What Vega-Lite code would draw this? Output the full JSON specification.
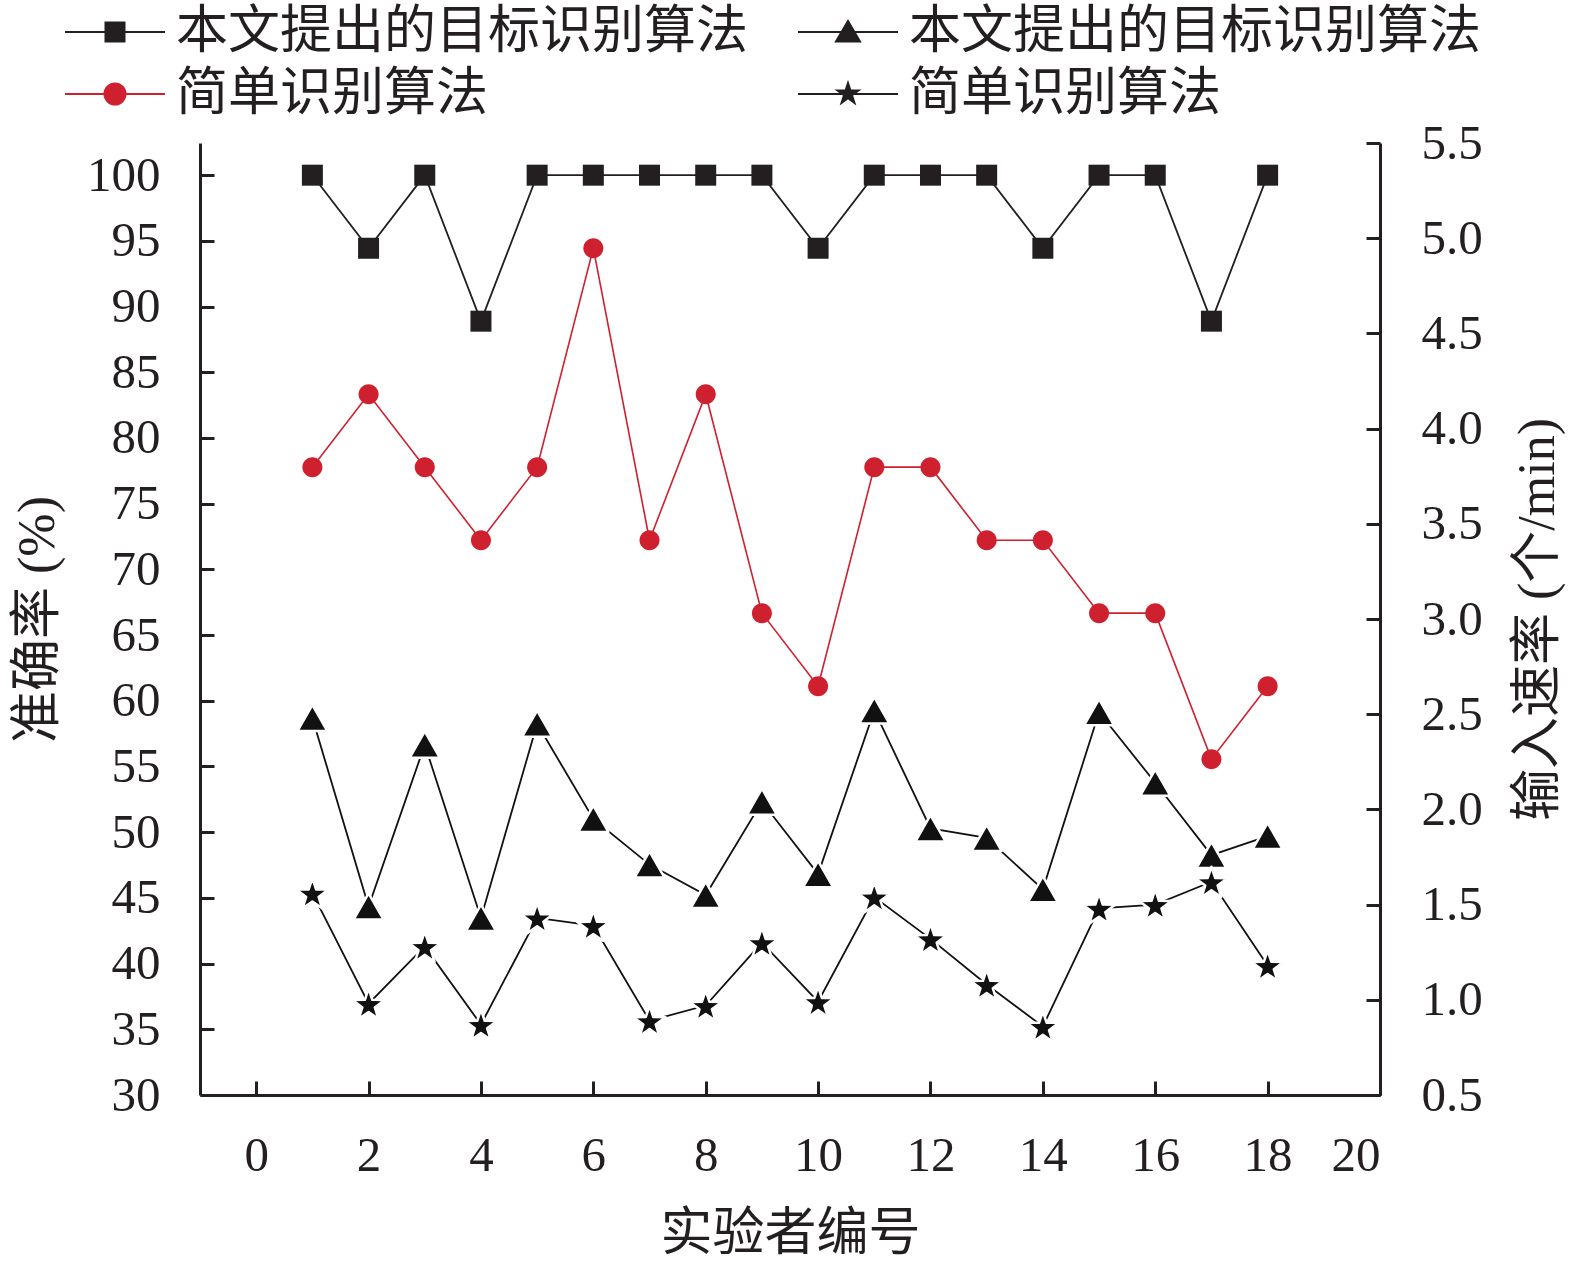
{
  "$schema": "https://vega.github.io/schema/vega-lite/v6.json",
  "width": 1180,
  "height": 952,
  "autosize": {"type": "none"},
  "padding": {"left": 200, "top": 143, "right": 195, "bottom": 167},
  "background": "white",
  "data": {
    "values": [
      {"id": 1, "series": "s1", "v": 100}, {"id": 2, "series": "s1", "v": 94.44}, {"id": 3, "series": "s1", "v": 100},
      {"id": 4, "series": "s1", "v": 88.89}, {"id": 5, "series": "s1", "v": 100}, {"id": 6, "series": "s1", "v": 100},
      {"id": 7, "series": "s1", "v": 100}, {"id": 8, "series": "s1", "v": 100}, {"id": 9, "series": "s1", "v": 100},
      {"id": 10, "series": "s1", "v": 94.44}, {"id": 11, "series": "s1", "v": 100}, {"id": 12, "series": "s1", "v": 100},
      {"id": 13, "series": "s1", "v": 100}, {"id": 14, "series": "s1", "v": 94.44}, {"id": 15, "series": "s1", "v": 100},
      {"id": 16, "series": "s1", "v": 100}, {"id": 17, "series": "s1", "v": 88.89}, {"id": 18, "series": "s1", "v": 100},
      {"id": 1, "series": "s3", "v": 77.78}, {"id": 2, "series": "s3", "v": 83.33}, {"id": 3, "series": "s3", "v": 77.78},
      {"id": 4, "series": "s3", "v": 72.22}, {"id": 5, "series": "s3", "v": 77.78}, {"id": 6, "series": "s3", "v": 94.44},
      {"id": 7, "series": "s3", "v": 72.22}, {"id": 8, "series": "s3", "v": 83.33}, {"id": 9, "series": "s3", "v": 66.67},
      {"id": 10, "series": "s3", "v": 61.11}, {"id": 11, "series": "s3", "v": 77.78}, {"id": 12, "series": "s3", "v": 77.78},
      {"id": 13, "series": "s3", "v": 72.22}, {"id": 14, "series": "s3", "v": 72.22}, {"id": 15, "series": "s3", "v": 66.67},
      {"id": 16, "series": "s3", "v": 66.67}, {"id": 17, "series": "s3", "v": 55.56}, {"id": 18, "series": "s3", "v": 61.11},
      {"id": 1, "series": "s2", "v": 2.48}, {"id": 2, "series": "s2", "v": 1.49}, {"id": 3, "series": "s2", "v": 2.34},
      {"id": 4, "series": "s2", "v": 1.43}, {"id": 5, "series": "s2", "v": 2.45}, {"id": 6, "series": "s2", "v": 1.95},
      {"id": 7, "series": "s2", "v": 1.71}, {"id": 8, "series": "s2", "v": 1.55}, {"id": 9, "series": "s2", "v": 2.04},
      {"id": 10, "series": "s2", "v": 1.66}, {"id": 11, "series": "s2", "v": 2.52}, {"id": 12, "series": "s2", "v": 1.9},
      {"id": 13, "series": "s2", "v": 1.85}, {"id": 14, "series": "s2", "v": 1.58}, {"id": 15, "series": "s2", "v": 2.51},
      {"id": 16, "series": "s2", "v": 2.14}, {"id": 17, "series": "s2", "v": 1.76}, {"id": 18, "series": "s2", "v": 1.86},
      {"id": 1, "series": "s4", "v": 1.56}, {"id": 2, "series": "s4", "v": 0.98}, {"id": 3, "series": "s4", "v": 1.28},
      {"id": 4, "series": "s4", "v": 0.87}, {"id": 5, "series": "s4", "v": 1.43}, {"id": 6, "series": "s4", "v": 1.39},
      {"id": 7, "series": "s4", "v": 0.89}, {"id": 8, "series": "s4", "v": 0.97}, {"id": 9, "series": "s4", "v": 1.3},
      {"id": 10, "series": "s4", "v": 0.99}, {"id": 11, "series": "s4", "v": 1.54}, {"id": 12, "series": "s4", "v": 1.32},
      {"id": 13, "series": "s4", "v": 1.08}, {"id": 14, "series": "s4", "v": 0.86}, {"id": 15, "series": "s4", "v": 1.48},
      {"id": 16, "series": "s4", "v": 1.5}, {"id": 17, "series": "s4", "v": 1.62}, {"id": 18, "series": "s4", "v": 1.18}
    ]
  },
  "layer": [
    {
      "encoding": {
        "x": {"field": "id", "type": "quantitative", "scale": {"domain": [-1, 20], "nice": false, "zero": false},
          "axis": {"values": [0, 2, 4, 6, 8, 10, 12, 14, 16, 18, 20], "title": "实验者编号", "labelPadding": 50, "titlePadding": 28}},
        "y": {"field": "v", "type": "quantitative", "scale": {"domain": [30, 102.45], "nice": false, "zero": false},
          "axis": {"orient": "left", "values": [30, 35, 40, 45, 50, 55, 60, 65, 70, 75, 80, 85, 90, 95, 100], "title": "准确率 (%)", "labelPadding": 54, "titlePadding": 22}}
      },
      "layer": [
        {"transform": [{"filter": "datum.series === 's1'"}], "mark": {"type": "line", "strokeWidth": 1.8, "color": "#231f20"}, "encoding": {}},
        {"transform": [{"filter": "datum.series === 's3'"}], "mark": {"type": "line", "strokeWidth": 1.6, "color": "#cf202f"}, "encoding": {}},
        {"transform": [{"filter": "datum.series === 's1'"}], "mark": {"type": "point", "filled": true, "opacity": 1, "size": 400, "color": "#231f20",
          "shape": "M-1.05,-1.05H1.05V1.05H-1.05Z"}},
        {"transform": [{"filter": "datum.series === 's3'"}], "mark": {"type": "point", "filled": true, "opacity": 1, "size": 400, "color": "#cf202f",
          "shape": "M1,0A1,1,0,1,1,-1,0A1,1,0,1,1,1,0Z"}},
        {
          "transform": [{"filter": "false"}],
          "mark": {"type": "point", "filled": true, "opacity": 1, "size": 400},
          "encoding": {
            "color": {"field": "series", "type": "nominal",
              "scale": {"domain": ["s1", "s2", "s3", "s4"], "range": ["#231f20", "#231f20", "#cf202f", "#231f20"]},
              "legend": {
                "title": null, "orient": "none", "direction": "horizontal", "legendX": -111, "legendY": -137, "columns": 2, "columnPadding": 45, "rowPadding": 10,
                "padding": 0, "symbolSize": 400, "symbolStrokeWidth": 2, "labelOffset": 35, "labelFontSize": 52, "labelFont": "Liberation Serif, Noto Sans CJK SC", "labelColor": "#231f20",
                "labelLimit": 1000,
                "labelExpr": "datum.value === 's1' || datum.value === 's2' ? '本文提出的目标识别算法' : '简单识别算法'"
              }},
            "stroke": {"field": "series", "type": "nominal",
              "scale": {"domain": ["s1", "s2", "s3", "s4"], "range": ["#231f20", "#231f20", "#cf202f", "#231f20"]},
              "legend": {
                "title": null, "orient": "none", "direction": "horizontal", "legendX": -111, "legendY": -137, "columns": 2, "columnPadding": 45, "rowPadding": 10,
                "padding": 0, "symbolSize": 400, "symbolStrokeWidth": 2, "labelOffset": 35, "labelFontSize": 52, "labelFont": "Liberation Serif, Noto Sans CJK SC", "labelColor": "#231f20",
                "labelLimit": 1000,
                "labelExpr": "datum.value === 's1' || datum.value === 's2' ? '本文提出的目标识别算法' : '简单识别算法'"
              }},
            "shape": {"field": "series", "type": "nominal",
              "scale": {"domain": ["s1", "s2", "s3", "s4"], "range": [
                "M-5,0H5M-0.95,-0.95H0.95V0.95H-0.95Z",
                "M-5,0H5M0,-1.1L1.2,0.95L-1.2,0.95Z",
                "M-5,0H5M1.05,0A1.05,1.05,0,1,1,-1.05,0A1.05,1.05,0,1,1,1.05,0Z",
                "M-5,0H5M0,-1.1L0.247,-0.34L1.046,-0.34L0.4,0.13L0.647,0.89L0,0.42L-0.647,0.89L-0.4,0.13L-1.046,-0.34L-0.247,-0.34Z"]},
              "legend": {
                "title": null, "orient": "none", "direction": "horizontal", "legendX": -111, "legendY": -137, "columns": 2, "columnPadding": 45, "rowPadding": 10,
                "padding": 0, "symbolSize": 400, "symbolStrokeWidth": 2, "labelOffset": 35, "labelFontSize": 52, "labelFont": "Liberation Serif, Noto Sans CJK SC", "labelColor": "#231f20",
                "labelLimit": 1000,
                "labelExpr": "datum.value === 's1' || datum.value === 's2' ? '本文提出的目标识别算法' : '简单识别算法'"
              }}
          }
        }
      ]
    },
    {
      "encoding": {
        "x": {"field": "id", "type": "quantitative", "scale": {"domain": [-1, 20], "nice": false, "zero": false},
          "axis": {"values": [0, 2, 4, 6, 8, 10, 12, 14, 16, 18, 20], "title": "实验者编号", "labelPadding": 50, "titlePadding": 28}},
        "y": {"field": "v", "type": "quantitative", "scale": {"domain": [0.5, 5.5], "nice": false, "zero": false},
          "axis": {"orient": "right", "values": [0.5, 1, 1.5, 2, 2.5, 3, 3.5, 4, 4.5, 5, 5.5], "format": ".1f", "title": "输入速率 (个/min)", "titleAngle": 270, "titleBaseline": "top", "labelPadding": 55, "titlePadding": 30}}
      },
      "layer": [
        {"transform": [{"filter": "datum.series === 's2'"}], "mark": {"type": "line", "strokeWidth": 1.8, "color": "#111111"}, "encoding": {}},
        {"transform": [{"filter": "datum.series === 's4'"}], "mark": {"type": "line", "strokeWidth": 1.8, "color": "#111111"}, "encoding": {}},
        {"transform": [{"filter": "datum.series === 's2'"}], "mark": {"type": "point", "filled": true, "opacity": 1, "size": 400, "color": "#111111",
          "stroke": "white", "strokeWidth": 2.5, "strokeJoin": "round", "shape": "M0,-1.32L1.5,1.3L-1.5,1.3Z"}},
        {"transform": [{"filter": "datum.series === 's4'"}], "mark": {"type": "point", "filled": true, "opacity": 1, "size": 400, "color": "#111111",
          "stroke": "white", "strokeWidth": 2.5, "strokeJoin": "round",
          "shape": "M0,-1.5L0.37,-0.38L1.6,-0.36L0.62,0.38L0.98,1.52L0,0.84L-0.98,1.52L-0.62,0.38L-1.6,-0.36L-0.37,-0.38Z"}}
      ]
    }
  ],
  "resolve": {"scale": {"y": "independent"}},
  "config": {
    "view": {"stroke": null},
    "font": "Liberation Serif, Noto Sans CJK SC",
    "axis": {
      "grid": false,
      "domainColor": "#231f20", "domainWidth": 3,
      "tickColor": "#231f20", "tickWidth": 3, "tickSize": -14,
      "labelFont": "Liberation Serif", "labelFontSize": 49, "labelColor": "#231f20",
      "titleFont": "Liberation Serif, Noto Sans CJK SC", "titleFontSize": 52, "titleFontWeight": "normal", "titleColor": "#231f20"
    }
  }
}
